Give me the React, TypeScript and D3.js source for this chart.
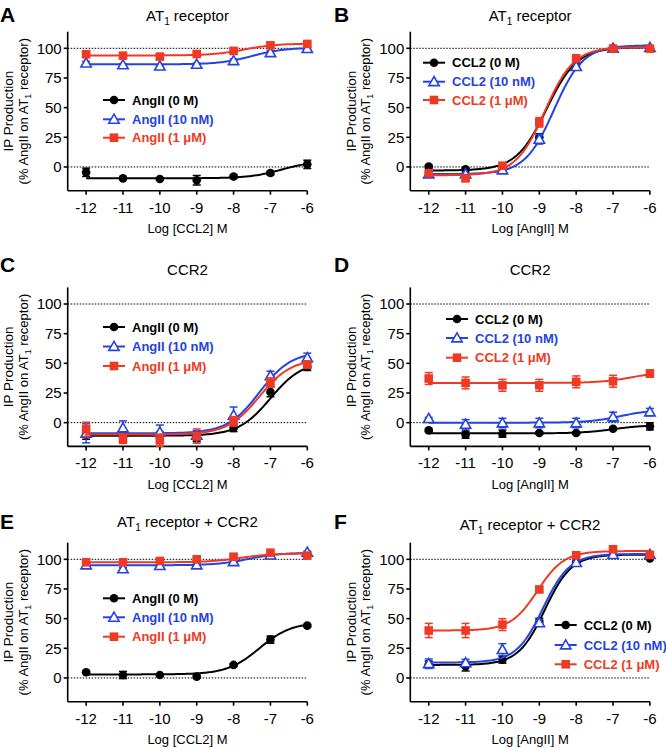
import React from "react";
import * as d3 from "d3";

// ---------- data ----------
const logConc = [-12, -11, -10, -9, -8, -7, -6];
const yTicks = [0, 25, 50, 75, 100];
const xTicks = [-12, -11, -10, -9, -8, -7, -6];

// Panel A: AT1 receptor, x = Log [CCL2]
const aBlack = [-4.5, -9.6, -10.1, -11.2, -8.1, -5.1, 2.2];
const aBlackErr = [3.5, 1, 1, 4, 1.5, 1.5, 3.5];
const aBlue = [87.5, 86, 85, 86.5, 89.5, 96.3, 99.7];
const aBlueErr = [1.5, 1, 1, 1, 1.5, 1.5, 1];
const aRed = [95, 93.8, 93, 95.2, 97.8, 102.5, 103.7];
const aRedErr = [1.5, 1, 1, 1, 1, 1, 1];

// Panel B: AT1 receptor, x = Log [AngII]
const bBlack = [0.3, -2, -1, 25, 87, 100, 100];
const bBlackErr = [1, 1, 1, 3, 2, 1, 1];
const bBlue = [-5.9, -6, -2.5, 23.3, 84.6, 100, 100.6];
const bBlueErr = [1, 1, 1, 4, 2, 1, 1];
const bRed = [-5.3, -9.6, 1.1, 37.6, 91.6, 99.7, 99.7];
const bRedErr = [1, 2, 1, 4, 3, 1, 1];

// Panel C: CCR2, x = Log [CCL2]
const cBlack = [-10, -12, -12, -13, -4.5, 25.9, 47];
const cBlackErr = [4, 4, 4, 3, 3, 4, 3];
const cBlue = [-9, -4.5, -8, -10.7, 6.2, 39.4, 54.6];
const cBlueErr = [8, 6, 6, 4, 7, 4, 4];
const cRed = [-5.6, -13.5, -15, -11.3, 1.1, 33.8, 49];
const cRedErr = [6, 4, 5, 6, 4, 4, 3];

// Panel D: CCR2, x = Log [AngII]
const dBlack = [-6.5, -10.1, -9.3, -8.7, -8.7, -5.1, -3.1];
const dBlackErr = [1, 3, 3, 1, 1, 1, 3];
const dBlue = [3.4, -1.4, -0.3, -0.3, -0.3, 4.8, 9];
const dBlueErr = [1, 4, 4, 4, 4, 4, 3];
const dRed = [37.2, 33.5, 31.5, 31.5, 34.4, 34.9, 41.4];
const dRedErr = [5, 5, 5, 5, 5, 5, 3];

// Panel E: AT1 receptor + CCR2, x = Log [CCL2]
const eBlack = [4.8, 2.5, 2.5, 1.1, 11, 32.3, 44.1];
const eBlackErr = [1, 3, 1, 1, 1, 3, 1];
const eBlue = [95.2, 91.9, 94.7, 95.2, 98, 103.6, 105.9];
const eBlueErr = [1, 1, 1, 1, 1, 1, 1];
const eRed = [97.5, 97.5, 98.6, 100, 102.2, 105.6, 103.1];
const eRedErr = [1, 1, 1, 1, 1, 1, 1];

// Panel F: AT1 receptor + CCR2, x = Log [AngII]
const fBlack = [11.3, 9.9, 15.5, 47.3, 97.2, 104.2, 100.8];
const fBlackErr = [3, 4, 3, 3, 2, 1, 1];
const fBlue = [12, 12.7, 23.9, 46.5, 97.2, 104, 104];
const fBlueErr = [4, 3, 5, 3, 2, 1, 1];
const fRed = [40, 40, 45, 74.6, 103.4, 108.5, 103.7];
const fRedErr = [6, 6, 5, 2, 1, 1, 2];

// fitted sigmoid parameters [bottom, top, logEC50, hill]
const aFits = [[-9.5, 5, -6.7, 1], [86.5, 100.5, -7.5, 1], [94, 104, -7.7, 1]];
const bFits = [[-3, 101, -8.8, 1.05], [-6, 102.5, -8.6, 1.1], [-7, 101, -8.85, 1.1]];
const cFits = [[-11, 52, -7.0, 1], [-9, 60, -7.3, 1], [-10, 54, -7.3, 1]];
const dFits = [[-9, -2, -7, 1], [0, 11, -6.8, 1], [33.5, 43, -6.5, 1]];
const eFits = [[3, 47, -7.3, 1], [95, 105.5, -7.6, 1], [97.5, 105, -7.8, 1]];
const fFits = [[11, 104, -8.85, 1.2], [13, 104.5, -8.9, 1.2], [40, 107, -9.05, 1.2]];

const angLegend = ["AngII (0 M)", "AngII (10 nM)", "AngII (1 μM)"];
const ccl2Legend = ["CCL2 (0 M)", "CCL2 (10 nM)", "CCL2 (1 μM)"];

// ---------- styling ----------
const COLORS = ["#000000", "#2443e0", "#ee3a24"];
const FONT = "Liberation Sans, Arial, Helvetica, sans-serif";

const colX = [67.7, 410.3];
const rowY = [0, 255.7, 511];

type Panel = {
  letter: string;
  col: number;
  row: number;
  title: [string, string | null, string];
  titleY: number;
  xLabel: string;
  series: number[][];
  errs: number[][];
  fits: number[][];
  legend: string[];
  legX: number;
  legY: number[];
};

const panels: Panel[] = [
  { letter: "A", col: 0, row: 0, title: ["AT", "1", " receptor"], titleY: 16, xLabel: "Log [CCL2] M",
    series: [aBlack, aBlue, aRed], errs: [aBlackErr, aBlueErr, aRedErr], fits: aFits,
    legend: angLegend, legX: 103, legY: [100, 119.3, 137.7] },
  { letter: "B", col: 1, row: 0, title: ["AT", "1", " receptor"], titleY: 16, xLabel: "Log [AngII] M",
    series: [bBlack, bBlue, bRed], errs: [bBlackErr, bBlueErr, bRedErr], fits: bFits,
    legend: ccl2Legend, legX: 423, legY: [62.7, 81.7, 100] },
  { letter: "C", col: 0, row: 1, title: ["CCR2", null, ""], titleY: 270, xLabel: "Log [CCL2] M",
    series: [cBlack, cBlue, cRed], errs: [cBlackErr, cBlueErr, cRedErr], fits: cFits,
    legend: angLegend, legX: 103, legY: [327, 346.5, 366] },
  { letter: "D", col: 1, row: 1, title: ["CCR2", null, ""], titleY: 270, xLabel: "Log [AngII] M",
    series: [dBlack, dBlue, dRed], errs: [dBlackErr, dBlueErr, dRedErr], fits: dFits,
    legend: ccl2Legend, legX: 446, legY: [319, 338, 357.7] },
  { letter: "E", col: 0, row: 2, title: ["AT", "1", " receptor + CCR2"], titleY: 521.7, xLabel: "Log [CCL2] M",
    series: [eBlack, eBlue, eRed], errs: [eBlackErr, eBlueErr, eRedErr], fits: eFits,
    legend: angLegend, legX: 103, legY: [598.3, 617.3, 636.7] },
  { letter: "F", col: 1, row: 2, title: ["AT", "1", " receptor + CCR2"], titleY: 525, xLabel: "Log [AngII] M",
    series: [fBlack, fBlue, fRed], errs: [fBlackErr, fBlueErr, fRedErr], fits: fFits,
    legend: ccl2Legend, legX: 554.7, legY: [625, 645, 664.3] },
];

const sigmoid = (p: number[], x: number) => p[0] + (p[1] - p[0]) / (1 + Math.pow(10, (p[2] - x) * p[3]));

function Marker({ kind, x, y, color }: { kind: number; x: number; y: number; color: string }) {
  if (kind === 0) return <circle cx={x} cy={y} r={4.3} fill={color} />;
  if (kind === 1) {
    const s = 5.2;
    const pts = [[x, y - s], [x + s, y + s * 0.75], [x - s, y + s * 0.75]].map((p) => p.join(",")).join(" ");
    return <polygon points={pts} fill="#fff" stroke={color} strokeWidth={1.6} />;
  }
  return <rect x={x - 4.3} y={y - 4.3} width={8.6} height={8.6} fill={color} />;
}

function PanelView({ p }: { p: Panel }) {
  const ax = colX[p.col];
  const off = rowY[p.row];
  const x = d3.scaleLinear().domain([-12.5, -6]).range([ax, ax + 239.6]);
  const y = d3.scaleLinear().domain([-20, 114]).range([off + 190.7, off + 31.7]);
  const x0 = x(-12.5);
  const x1 = x(-6);
  const yb = y(-20);
  const curveXs = d3.range(-12, -5.999, 0.04);
  const makeCurve = (fit: number[]) =>
    d3.line<number>().x((v) => x(v)).y((v) => y(sigmoid(fit, v)))(curveXs) || "";
  const cx = (x0 + x1) / 2;
  const cy = (y(114) + yb) / 2;
  return (
    <g>
      {/* panel letter */}
      <text x={p.col === 0 ? 0 : 334} y={off + (p.row === 0 ? 22 : p.row === 1 ? 16 : 18)} fontFamily={FONT} fontWeight="bold" fontSize={21}>
        {p.letter}
      </text>
      {/* title */}
      <text x={cx} y={p.titleY} dy="0.35em" textAnchor="middle" fontFamily={FONT} fontSize={15}>
        {p.title[0]}
        {p.title[1] && (
          <tspan fontSize={10} dy={4}>{p.title[1]}</tspan>
        )}
        {p.title[1] && <tspan dy={-4}>{p.title[2]}</tspan>}
      </text>
      {/* y axis title */}
      <g transform={`translate(${ax - 54.5},${cy}) rotate(-90)`}>
        <text x={0} y={0} textAnchor="middle" fontFamily={FONT} fontSize={13.5}>IP Production</text>
      </g>
      <g transform={`translate(${ax - 40},${cy}) rotate(-90)`}>
        <text x={0} y={0} textAnchor="middle" fontFamily={FONT} fontSize={13}>
          (% AngII on AT<tspan fontSize={9} dy={3}>1</tspan><tspan dy={-3}> receptor)</tspan>
        </text>
      </g>
      {/* reference dotted lines */}
      {[0, 100].map((v) => (
        <line key={v} x1={x0} x2={x1} y1={y(v)} y2={y(v)} stroke="#000" strokeWidth={1} strokeDasharray="1.5,1.5" />
      ))}
      {/* axes */}
      <line x1={x0} x2={x0} y1={y(114)} y2={yb} stroke="#000" strokeWidth={1.6} />
      <line x1={x0} x2={x1} y1={yb} y2={yb} stroke="#000" strokeWidth={1.6} />
      {yTicks.map((t) => (
        <g key={t}>
          <line x1={x0 - 4} x2={x0} y1={y(t)} y2={y(t)} stroke="#000" strokeWidth={1.6} />
          <text x={x0 - 6} y={y(t)} dy="0.36em" textAnchor="end" fontFamily={FONT} fontSize={15}>{t}</text>
        </g>
      ))}
      {xTicks.map((t) => (
        <g key={t}>
          <line x1={x(t)} x2={x(t)} y1={yb} y2={yb + 4} stroke="#000" strokeWidth={1.6} />
          <text x={x(t)} y={yb + 16.5} dy="0.36em" textAnchor="middle" fontFamily={FONT} fontSize={15}>{"-" + Math.abs(t)}</text>
        </g>
      ))}
      <text x={cx} y={yb + 37.5} dy="0.36em" textAnchor="middle" fontFamily={FONT} fontSize={13}>{p.xLabel}</text>
      {/* series */}
      {p.series.map((s, si) => (
        <g key={si}>
          <path d={makeCurve(p.fits[si])} fill="none" stroke={COLORS[si]} strokeWidth={2} />
          {s.map((v, i) => {
            const e = p.errs[si][i];
            const px = x(logConc[i]);
            return (
              <g key={i}>
                <line x1={px} x2={px} y1={y(v - e)} y2={y(v + e)} stroke={COLORS[si]} strokeWidth={1.5} />
                <line x1={px - 4} x2={px + 4} y1={y(v - e)} y2={y(v - e)} stroke={COLORS[si]} strokeWidth={1.5} />
                <line x1={px - 4} x2={px + 4} y1={y(v + e)} y2={y(v + e)} stroke={COLORS[si]} strokeWidth={1.5} />
                <Marker kind={si} x={px} y={y(v)} color={COLORS[si]} />
              </g>
            );
          })}
        </g>
      ))}
      {/* legend */}
      {p.legend.map((lab, i) => (
        <g key={lab}>
          <line x1={p.legX} x2={p.legX + 22} y1={p.legY[i]} y2={p.legY[i]} stroke={COLORS[i]} strokeWidth={2} />
          <Marker kind={i} x={p.legX + 11} y={p.legY[i]} color={COLORS[i]} />
          <text x={p.legX + 29} y={p.legY[i]} dy="0.36em" fontFamily={FONT} fontWeight="bold" fontSize={13} fill={COLORS[i]}>
            {lab}
          </text>
        </g>
      ))}
    </g>
  );
}

export default function App() {
  return (
    <svg width={666} height={748} style={{ position: "absolute", left: 0, top: 0, background: "#fff" }}>
      <rect width={666} height={748} fill="#fff" />
      {panels.map((p) => (
        <PanelView key={p.letter} p={p} />
      ))}
    </svg>
  );
}
